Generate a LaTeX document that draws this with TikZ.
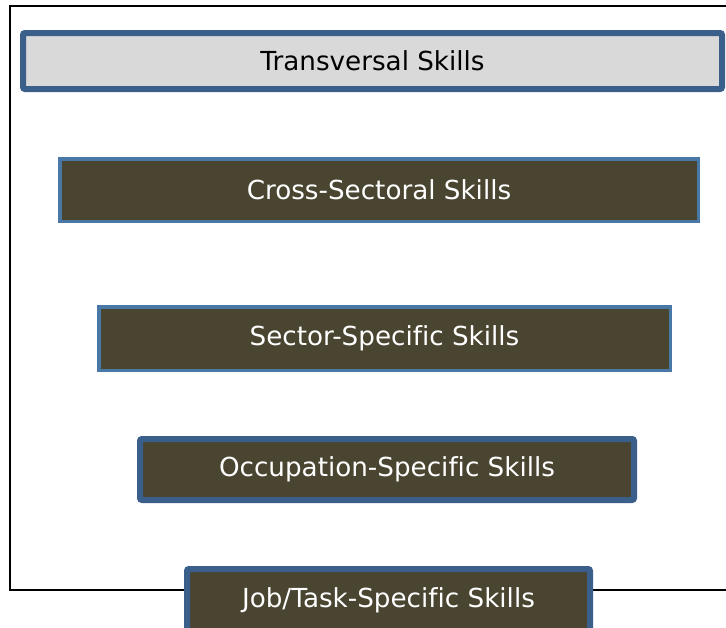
\documentclass[tikz,border=0pt]{standalone}
\usepackage{fontspec}
\setmainfont{DejaVu Sans}[Ligatures=NoCommon]
\definecolor{framegrey}{HTML}{D9D9D9}
\definecolor{edgeblue}{HTML}{3A5F8B}
\definecolor{edgelight}{HTML}{4A78A6}
\definecolor{olive}{HTML}{4A4530}
\begin{document}
\begin{tikzpicture}[x=1pt,y=-1pt,
  skill/.style={rectangle, outer sep=0pt, inner sep=0pt, align=center,
    font=\fontsize{26.2}{31}\selectfont},
  topbox/.style={skill, fill=framegrey, draw=edgeblue, line width=6pt,
    rounded corners=2pt, text=black},
  darkthin/.style={skill, fill=olive, draw=edgelight, line width=3.5pt, text=white},
  darkthick/.style={skill, fill=olive, draw=edgeblue, line width=6pt,
    rounded corners=2pt, text=white}]
  \useasboundingbox (0,0) rectangle (726,627);
  \fill[white] (0,0) rectangle (726,627);
  % open frame around the levels
  \draw[line width=2.6pt] (740,6) -- (10,6) -- (10,590) -- (740,590);
  % the levels, from broadest to narrowest
  \node[topbox, minimum width=699pt, minimum height=56pt] (trans) at (372.5,61) {Transversal Skills};
  \node[darkthin, minimum width=638.5pt, minimum height=62.5pt] (cross) at (379,190) {Cross-Sectoral Skills};
  \node[darkthin, minimum width=571.5pt, minimum height=63.5pt] (sector) at (384.5,338.5) {Sector-Specific Skills};
  \node[darkthick, minimum width=494pt, minimum height=61pt] (occup) at (387,469.5) {Occupation-Specific Skills};
  \node[darkthick, minimum width=403pt, minimum height=62pt] (job) at (388.5,600) {Job/Task-Specific Skills};
\end{tikzpicture}
\end{document}
